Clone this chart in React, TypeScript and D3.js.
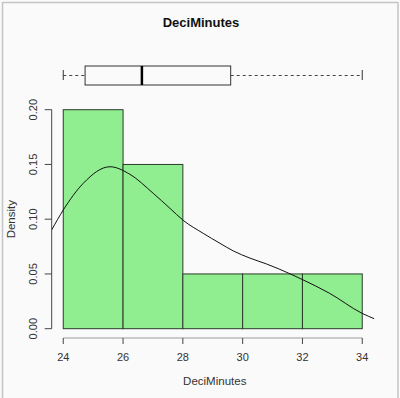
import React from "react";
import * as d3 from "d3";

const binEdges = [24, 26, 28, 30, 32, 34];
const densities = [0.2, 0.15, 0.05, 0.05, 0.05];
const boxStats = [24, 24.73, 26.63, 29.6, 34]; // min, q1, median, q3, max
const curveXs = [23.61, 24.0, 24.67, 25.56, 26.23, 27.01, 27.57, 28.01, 28.68, 29.24, 29.69, 30.24, 30.8, 31.58, 31.99, 32.91, 33.99, 34.42];
const curveYs = [0.0901, 0.1084, 0.1328, 0.1479, 0.1410, 0.1236, 0.1099, 0.0990, 0.0871, 0.078, 0.0710, 0.0645, 0.0591, 0.0502, 0.0450, 0.0323, 0.0141, 0.0089];
const xTicks = [24, 26, 28, 30, 32, 34];
const yTicks = [0, 0.05, 0.1, 0.15, 0.2];
const yTickLabels = ["0.00", "0.05", "0.10", "0.15", "0.20"];
const title = "DeciMinutes";
const xLabel = "DeciMinutes";
const yLabel = "Density";

export default function App() {
  const W = 400, H = 398;
  const x = d3.scaleLinear().domain([23.6, 34.4]).range([51.3, 374.2]);
  const y = d3.scaleLinear().domain([0, 0.2]).range([328.7, 109.7]);
  const font = "'Liberation Sans', Arial, Helvetica, sans-serif";
  const pts: [number, number][] = curveXs.map((v, i) => [v, curveYs[i]]);
  const line = d3.line<[number, number]>().x(d => x(d[0])).y(d => y(d[1])).curve(d3.curveMonotoneX);
  const plotL = x(23.6), plotR = x(34.4);
  const boxY0 = 66, boxY1 = 85, boxMid = 75.5;
  const axisY = 338;
  const axisX = 51.7;
  return (
    <svg width={W} height={H} style={{ position: "absolute", left: 0, top: 0 }} fontFamily={font}>
      <rect x={0} y={0} width={W} height={H} fill="#fafafa" />
      <line x1={2.5} y1={2} x2={2.5} y2={H} stroke="#c4c4c4" strokeWidth={1.5} />
      <line x1={2.5} y1={2.5} x2={398} y2={2.5} stroke="#c4c4c4" strokeWidth={1.5} />
      <line x1={398} y1={2} x2={398} y2={H} stroke="#c4c4c4" strokeWidth={1.5} />
      <text x={201} y={27} textAnchor="middle" fontWeight="bold" fontSize={13} fill="#111">{title}</text>

      {/* boxplot */}
      <line x1={x(boxStats[0])} x2={x(boxStats[1])} y1={boxMid} y2={boxMid} stroke="#444" strokeDasharray="3,3" />
      <line x1={x(boxStats[3])} x2={x(boxStats[4])} y1={boxMid} y2={boxMid} stroke="#444" strokeDasharray="3,3" />
      <line x1={x(boxStats[0])} x2={x(boxStats[0])} y1={70} y2={80} stroke="#333" />
      <line x1={x(boxStats[4])} x2={x(boxStats[4])} y1={70} y2={80} stroke="#333" />
      <rect x={x(boxStats[1])} y={boxY0} width={x(boxStats[3]) - x(boxStats[1])} height={boxY1 - boxY0} fill="#fafafa" stroke="#333" />
      <line x1={x(boxStats[2])} x2={x(boxStats[2])} y1={boxY0} y2={boxY1} stroke="#000" strokeWidth={2.5} />

      {/* histogram bars */}
      {densities.map((d, i) => (
        <rect key={i} x={x(binEdges[i])} y={y(d)} width={x(binEdges[i + 1]) - x(binEdges[i])} height={y(0) - y(d)} fill="#90ee90" stroke="#2a3a2a" strokeWidth={1} />
      ))}

      <clipPath id="plotclip">
        <rect x={plotL} y={95} width={plotR - plotL} height={245} />
      </clipPath>
      <path d={line(pts) || ""} fill="none" stroke="#111" strokeWidth={1} clipPath="url(#plotclip)" />

      {/* y axis */}
      <line x1={axisX} x2={axisX} y1={y(0)} y2={y(0.2)} stroke="#444" />
      {yTicks.map((t, i) => (
        <g key={i}>
          <line x1={axisX - 7} x2={axisX} y1={y(t)} y2={y(t)} stroke="#444" />
          <text transform={`translate(37,${y(t)}) rotate(-90)`} textAnchor="middle" fontSize={11} fill="#333">{yTickLabels[i]}</text>
        </g>
      ))}
      <text transform={`translate(15,${(y(0) + y(0.2)) / 2}) rotate(-90)`} textAnchor="middle" fontSize={11.5} fill="#333">{yLabel}</text>

      {/* x axis */}
      <line x1={x(24)} x2={x(34)} y1={axisY} y2={axisY} stroke="#999" />
      {xTicks.map((t, i) => (
        <g key={i}>
          <line x1={x(t)} x2={x(t)} y1={axisY} y2={axisY + 6} stroke="#444" />
          <text x={x(t)} y={361} textAnchor="middle" fontSize={11} fill="#333">{t}</text>
        </g>
      ))}
      <text x={(x(24) + x(34)) / 2 + 2} y={385} textAnchor="middle" fontSize={11.5} fill="#333">{xLabel}</text>
    </svg>
  );
}
